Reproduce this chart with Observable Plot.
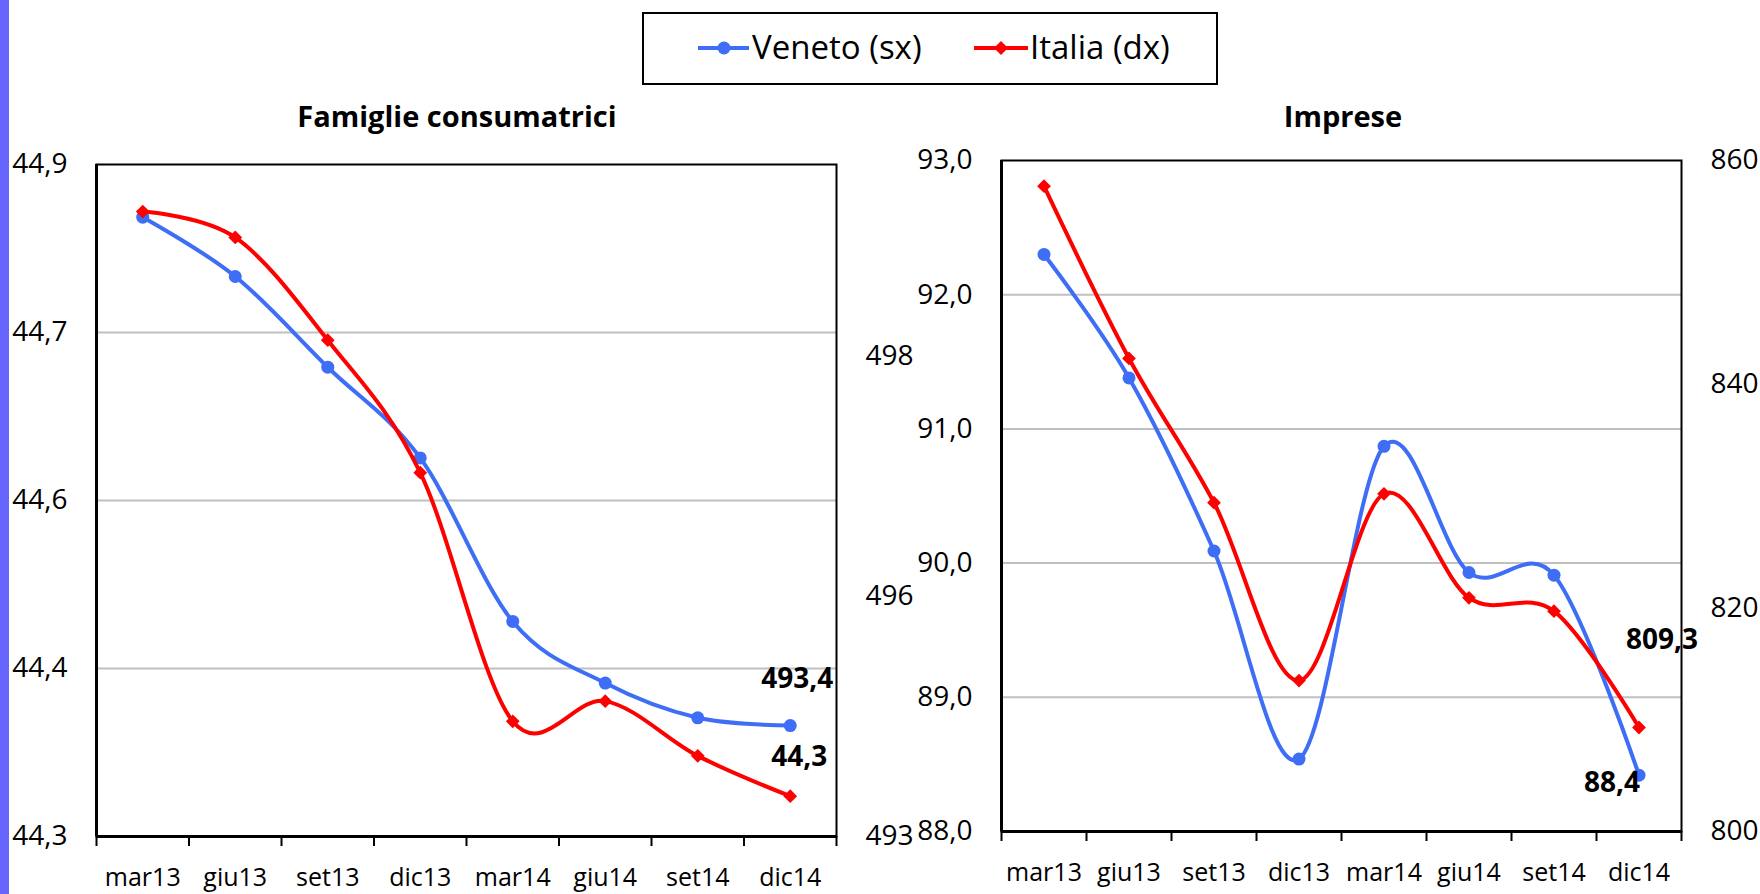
<!DOCTYPE html>
<html><head><meta charset="utf-8">
<script src="https://cdn.jsdelivr.net/npm/d3@7"></script>
<script src="https://cdn.jsdelivr.net/npm/@observablehq/plot@0.6"></script>
<style>
body{margin:0;background:#fff;width:1760px;height:894px;position:relative;overflow:hidden;font-family:"Open Sans",sans-serif;color:#000;}
.abs{position:absolute;}
.top{z-index:10;}
.title{font-weight:bold;font-size:29px;line-height:40px;text-align:center;width:600px;white-space:nowrap;}
.ltext{font-size:33px;line-height:44px;white-space:nowrap;}
</style></head><body>
<div class="abs top" style="left:0;top:0;width:9px;height:894px;background:#6666ff"></div>
<div class="abs top" style="left:642px;top:12px;width:576px;height:73px;border:2px solid #000;box-sizing:border-box;"></div>
<svg class="abs top" style="left:690px;top:30px" width="70" height="36">
  <line x1="8" y1="18" x2="59" y2="18" stroke="#3d6ef5" stroke-width="4"/>
  <circle cx="34" cy="18" r="6.5" fill="#3d6ef5"/>
</svg>
<div class="abs top ltext" style="left:752px;top:25px">Veneto (sx)</div>
<svg class="abs top" style="left:966px;top:30px" width="70" height="36">
  <line x1="8" y1="18" x2="62" y2="18" stroke="#ff0000" stroke-width="4"/>
  <path d="M35,11 L42,18 L35,25 L28,18 Z" fill="#ff0000"/>
</svg>
<div class="abs top ltext" style="left:1030px;top:25px">Italia (dx)</div>
<div class="abs top title" style="left:157px;top:96px">Famiglie consumatrici</div>
<div class="abs top title" style="left:1043px;top:96px">Imprese</div>
<div id="left" class="abs" style="left:0;top:0;width:918px;height:894px;overflow:hidden"></div>
<div id="right" class="abs" style="left:918px;top:0;width:842px;height:894px;overflow:hidden"></div>
<script>
const categories = ["mar13","giu13","set13","dic13","mar14","giu14","set14","dic14"];
// Famiglie consumatrici
const famVeneto = [44.853, 44.800, 44.719, 44.638, 44.492, 44.437, 44.406, 44.399];
const famItalia = [499.51, 499.24, 498.17, 496.79, 494.20, 494.41, 493.84, 493.42];
// Imprese
const impVeneto = [92.30, 91.38, 90.09, 88.54, 90.87, 89.93, 89.91, 88.42];
const impItalia = [857.7, 842.3, 829.4, 813.5, 830.2, 820.9, 819.7, 809.3];

const famLeftDomain = [44.3, 44.9];
const famLeftTicks = [44.3, 44.45, 44.6, 44.75, 44.9];
const famLeftLabels = ["44,3", "44,4", "44,6", "44,7", "44,9"];
const famRightDomain = [493, 500];
const famRightTicks = [493, 495.5, 498];
const famRightLabels = ["493", "496", "498"];
const famDataLabels = ["44,3", "493,4"]; // [Veneto, Italia]

const impLeftDomain = [88, 93];
const impLeftTicks = [88, 89, 90, 91, 92, 93];
const impLeftLabels = ["88,0", "89,0", "90,0", "91,0", "92,0", "93,0"];
const impRightDomain = [800, 860];
const impRightTicks = [800, 820, 840, 860];
const impRightLabels = ["800", "820", "840", "860"];
const impDataLabels = ["88,4", "809,3"];

const BLUE = "#3d6ef5", RED = "#ff0000", GRID = "#c0c0c0";
const FONT = "Open Sans";

function rowsOf(vals) { return vals.map((v, i) => ({pos: i + 0.5, cat: categories[i], v})); }

function panel(el, cfg) {
  const dims = {width: cfg.width, height: 894, marginLeft: cfg.ml, marginRight: cfg.mr, marginTop: cfg.mt, marginBottom: cfg.mb};
  const xs = {domain: [0, categories.length], label: null};
  const vr = rowsOf(cfg.veneto), ir = rowsOf(cfg.italia);
  const vLast = vr[vr.length - 1], iLast = ir[ir.length - 1];
  const base = Plot.plot({
    ...dims,
    style: {fontFamily: FONT, background: "white", color: "#000", overflow: "hidden"},
    x: xs,
    y: {domain: cfg.lDomain, label: null},
    marks: [
      Plot.gridY(cfg.lTicks.slice(1, -1), {stroke: GRID, strokeOpacity: 1, strokeWidth: 2}),
      Plot.frame({stroke: "#000", strokeWidth: 2}),
      Plot.ruleX([0], {stroke: "#000", strokeWidth: 3}),
      Plot.ruleY([cfg.lDomain[0]], {stroke: "#000", strokeWidth: 3}),
      Plot.axisX(d3.range(0, categories.length + 1), {tickSize: 10, strokeWidth: 2, tickFormat: () => "", label: null}),
      Plot.axisX(categories.map((c, i) => i + 0.5), {tickSize: 0, tickPadding: 32, fontSize: 25, tickFormat: d => categories[Math.floor(d)], label: null}),
      Plot.axisY(cfg.lTicks, {anchor: "left", tickSize: 0, tickPadding: 29, fontSize: 28, tickFormat: d => cfg.lLabels[cfg.lTicks.indexOf(d)], label: null}),
      Plot.line(vr, {x: "pos", y: "v", stroke: BLUE, strokeWidth: 4, curve: "cardinal"}),
      Plot.dot(vr, {x: "pos", y: "v", r: 6.5, fill: BLUE}),
      Plot.text([vLast], {x: "pos", y: "v", text: () => cfg.labels[0], textAnchor: "end", dx: cfg.vdx, dy: cfg.vdy, fontSize: 28, fontWeight: "bold", fill: "#000"})
    ]
  });
  const over = Plot.plot({
    ...dims,
    style: {fontFamily: FONT, background: "transparent", color: "#000", overflow: "hidden", position: "absolute", left: "0px", top: "0px"},
    x: {...xs, axis: null},
    y: {domain: cfg.rDomain, label: null},
    marks: [
      Plot.axisY(cfg.rTicks, {anchor: "right", tickSize: 0, tickPadding: 29, fontSize: 28, tickFormat: d => cfg.rLabels[cfg.rTicks.indexOf(d)], label: null}),
      Plot.line(ir, {x: "pos", y: "v", stroke: RED, strokeWidth: 4, curve: "cardinal"}),
      Plot.dot(ir, {x: "pos", y: "v", r: 6.2, fill: RED, symbol: "diamond2"}),
      Plot.text([iLast], {x: "pos", y: "v", text: () => cfg.labels[1], textAnchor: "end", dx: cfg.idx, dy: cfg.idy, fontSize: 28, fontWeight: "bold", fill: "#000"})
    ]
  });
  base.style.position = "absolute"; base.style.left = "0px"; base.style.top = "0px";
  el.appendChild(base);
  el.appendChild(over);
}

panel(document.getElementById("left"), {
  width: 918, ml: 96, mr: 918 - 836, mt: 164, mb: 894 - 836,
  veneto: famVeneto, italia: famItalia,
  lDomain: famLeftDomain, lTicks: famLeftTicks, lLabels: famLeftLabels,
  rDomain: famRightDomain, rTicks: famRightTicks, rLabels: famRightLabels,
  labels: famDataLabels, vdx: 37, vdy: 31, idx: 43, idy: -117
});
panel(document.getElementById("right"), {
  width: 842, ml: 1001 - 918, mr: 918 + 842 - 1681, mt: 160, mb: 894 - 831,
  veneto: impVeneto, italia: impItalia,
  lDomain: impLeftDomain, lTicks: impLeftTicks, lLabels: impLeftLabels,
  rDomain: impRightDomain, rTicks: impRightTicks, rLabels: impRightLabels,
  labels: impDataLabels, vdx: 1, vdy: 8, idx: 59, idy: -87
});
</script>
</body></html>
